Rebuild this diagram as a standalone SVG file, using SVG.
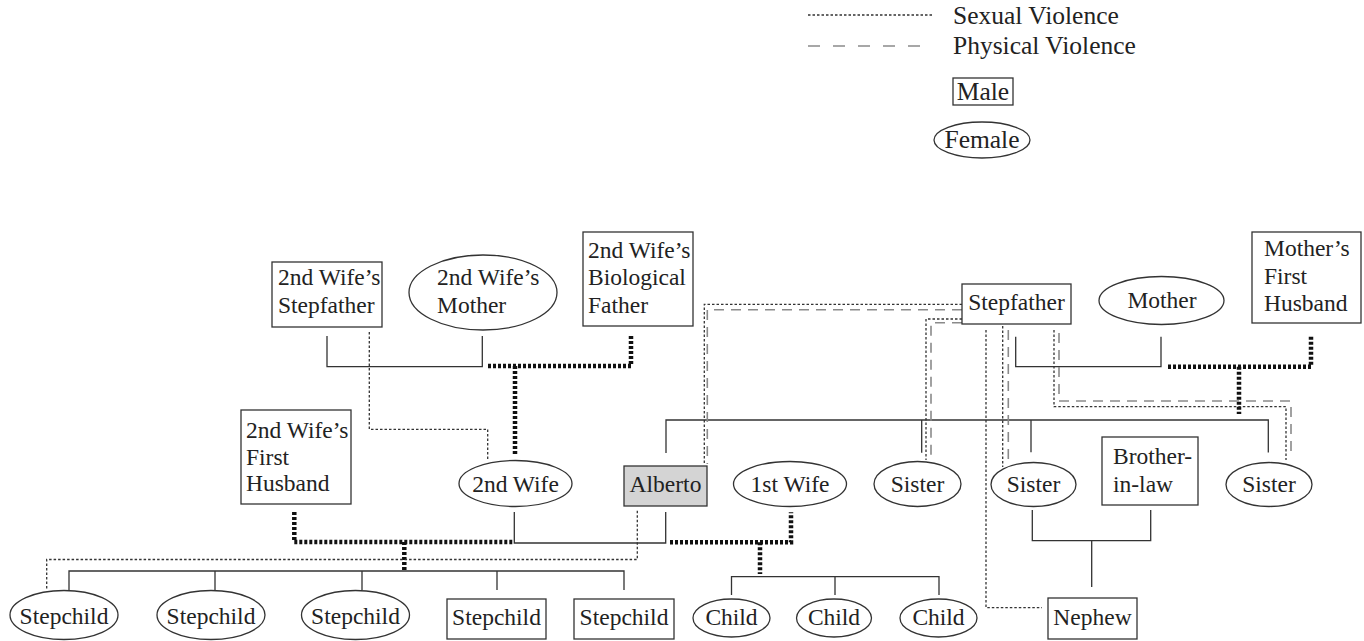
<svg xmlns="http://www.w3.org/2000/svg" width="1364" height="641" viewBox="0 0 1364 641">
<style>
text{font-family:"Liberation Serif","Times New Roman",serif;fill:#222;font-size:23.5px}
.leg{font-size:25.5px}
.m{text-anchor:middle}
.box{fill:#fff;stroke:#333;stroke-width:1.3}
.me{fill:#d4d4d4;stroke:#333;stroke-width:1.3}
.sol{fill:none;stroke:#333;stroke-width:1.3}
.thk{fill:none;stroke:#111;stroke-width:4.5;stroke-dasharray:3 2}
.sex{fill:none;stroke:#333;stroke-width:1.3;stroke-dasharray:2.5 2}
.phy{fill:none;stroke:#8a8a8a;stroke-width:1.6;stroke-dasharray:10 7}
</style>
<rect width="1364" height="641" fill="#fff"/>
<g id="legend">
<path class="sex" d="M808,15 H932"/>
<path class="phy" d="M808,46 H932" style="stroke-dasharray:12 13"/>
<text class="leg" x="953" y="24">Sexual Violence</text>
<text class="leg" x="953" y="54">Physical Violence</text>
<rect class="box" x="953" y="78" width="60" height="27"/>
<text class="leg m" x="983" y="100">Male</text>
<ellipse class="box" cx="982" cy="140" rx="48" ry="18"/>
<text class="leg m" x="982" y="148">Female</text>
</g>
<g id="connectors">
<path class="sol" d="M327,336 V366.7 H482.3 V336"/>
<path class="sol" d="M514.3,512 V543 H665.7 V512"/>
<path class="sol" d="M69,590 V571 H624 V590 M215,571 V590 M362,571 V590 M497,571 V590"/>
<path class="sol" d="M731.5,595 V576.7 H939 V595 M835,576.7 V595"/>
<path class="sol" d="M666,453 V420 H1268.3 V452.5 M921.7,420 V452.7 M1031,420 V452.3"/>
<path class="sol" d="M1015.7,336.7 V366.7 H1161 V336.7"/>
<path class="sol" d="M1032.3,510 V540.7 H1150.7 V510 M1091.7,540.7 V587"/>
<path class="thk" d="M488,366 H631 V336 M515,366 V455"/>
<path class="thk" d="M294.3,512 V542 H513 M404.3,542 V570"/>
<path class="thk" d="M670,542.3 H791 V512.3 M760,542.3 V574"/>
<path class="thk" d="M1168,366.7 H1311 V336.7 M1239,366.7 V414"/>
<path class="sex" d="M369.3,332 V429.3 H487.7 V460"/>
<path class="sex" d="M637.3,510.7 V559.5 H46.7 V590"/>
<path class="sex" d="M962,304.3 H704.3 V464"/>
<path class="sex" d="M962,319 H926 V460"/>
<path class="sex" d="M986,330 V607.7 H1042"/>
<path class="sex" d="M1002.7,326 V467"/>
<path class="sex" d="M1054,330 V406.7 H1286 V460"/>
<path class="phy" d="M962,309.7 H707.3 V464"/>
<path class="phy" d="M962,322.7 H931 V460"/>
<path class="phy" d="M1008.3,330 V466"/>
<path class="phy" d="M1059,333 V401 H1291 V458"/>
</g>
<g id="sw_stepfather"><rect class="box" x="272" y="262" width="110" height="65"/><text x="278" y="285">2nd Wife’s</text><text x="278" y="313">Stepfather</text></g>
<g id="sw_mother"><ellipse class="box" cx="483" cy="292.5" rx="74" ry="37.5"/><text x="437" y="285">2nd Wife’s</text><text x="437" y="313">Mother</text></g>
<g id="sw_biofather"><rect class="box" x="583" y="232" width="110" height="94"/><text x="588" y="257.5">2nd Wife’s</text><text x="588" y="285">Biological</text><text x="588" y="313">Father</text></g>
<g id="sw_firsthusband"><rect class="box" x="241" y="410" width="110" height="94"/><text x="246" y="437.5">2nd Wife’s</text><text x="246" y="464.5">First</text><text x="246" y="491">Husband</text></g>
<g id="second_wife"><ellipse class="box" cx="515.5" cy="483.5" rx="56.5" ry="23"/><text class="m" x="515.5" y="491.5">2nd Wife</text></g>
<g id="alberto"><rect class="me" x="624" y="466" width="83" height="40"/><text class="m" x="665.5" y="492">Alberto</text></g>
<g id="first_wife"><ellipse class="box" cx="790" cy="484" rx="56.5" ry="22.5"/><text class="m" x="790" y="492">1st Wife</text></g>
<g id="sister1"><ellipse class="box" cx="917.5" cy="484" rx="43.5" ry="22.5"/><text class="m" x="917.5" y="492">Sister</text></g>
<g id="sister2"><ellipse class="box" cx="1033.5" cy="484.5" rx="42.5" ry="22"/><text class="m" x="1033.5" y="492">Sister</text></g>
<g id="brother_in_law"><rect class="box" x="1102" y="437" width="96" height="68"/><text x="1113" y="464">Brother-</text><text x="1113" y="491.5">in-law</text></g>
<g id="sister3"><ellipse class="box" cx="1269" cy="484.5" rx="43" ry="22"/><text class="m" x="1269" y="492">Sister</text></g>
<g id="stepfather"><rect class="box" x="962" y="284" width="109" height="40"/><text class="m" x="1016.5" y="310">Stepfather</text></g>
<g id="mother"><ellipse class="box" cx="1161.5" cy="300.5" rx="62.5" ry="24"/><text class="m" x="1162" y="308">Mother</text></g>
<g id="mother_first_husband"><rect class="box" x="1252" y="232" width="109" height="91"/><text x="1264" y="256">Mother’s</text><text x="1264" y="283.5">First</text><text x="1264" y="311">Husband</text></g>
<g id="stepchild1"><ellipse class="box" cx="64" cy="615" rx="54" ry="24.5"/><text class="m" x="64" y="624">Stepchild</text></g>
<g id="stepchild2"><ellipse class="box" cx="211" cy="615" rx="54" ry="24.5"/><text class="m" x="211" y="624">Stepchild</text></g>
<g id="stepchild3"><ellipse class="box" cx="355.5" cy="615" rx="54" ry="24.5"/><text class="m" x="355.5" y="624">Stepchild</text></g>
<g id="stepchild4"><rect class="box" x="447" y="599" width="99" height="40"/><text class="m" x="496.5" y="625">Stepchild</text></g>
<g id="stepchild5"><rect class="box" x="574" y="599" width="100" height="40"/><text class="m" x="624" y="625">Stepchild</text></g>
<g id="child1"><ellipse class="box" cx="731.5" cy="618" rx="38.5" ry="19"/><text class="m" x="731.5" y="625">Child</text></g>
<g id="child2"><ellipse class="box" cx="834" cy="618" rx="37.5" ry="19"/><text class="m" x="834" y="625">Child</text></g>
<g id="child3"><ellipse class="box" cx="938.5" cy="618" rx="38.5" ry="19"/><text class="m" x="938.5" y="625">Child</text></g>
<g id="nephew"><rect class="box" x="1048" y="598" width="89" height="41"/><text class="m" x="1092.5" y="625">Nephew</text></g>
</svg>
